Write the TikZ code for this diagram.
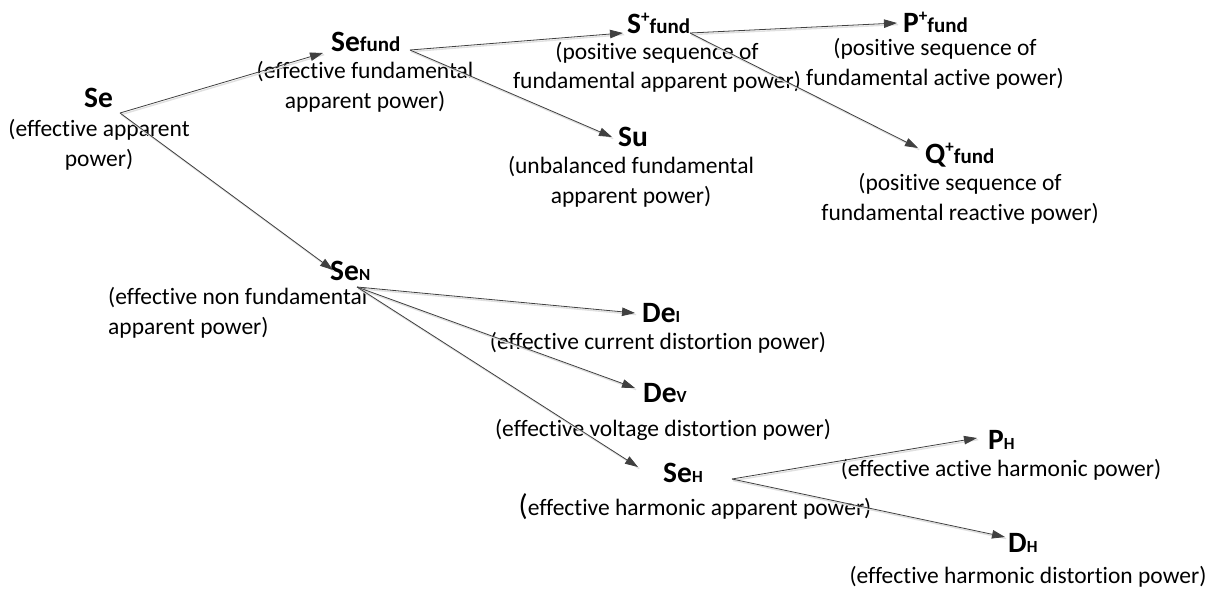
\documentclass[tikz,border=0pt]{standalone}
\usepackage{fontspec}
\setmainfont[Ligatures=CommonOff]{Carlito}
\usetikzlibrary{arrows.meta}
\newcommand\fundsub{{\fontsize{21}{21}\selectfont fund}}
\newcommand\smallsub[1]{{\fontsize{17}{17}\selectfont #1}}
\newcommand\plussup{\raisebox{11pt}{\fontsize{17}{17}\selectfont +}}
\begin{document}
\begin{tikzpicture}[x=1pt,y=-1pt,
  ttl/.style={anchor=west,inner sep=0pt,font=\fontsize{29.5}{29.5}\selectfont\bfseries},
  dsc/.style={align=center,inner sep=0pt,font=\fontsize{23.5}{29.5}\selectfont},
  arr/.style={draw=black!75,line width=0.8pt,-{Triangle[length=13pt,width=8.5pt]},
    preaction={draw=black!12,line width=1.4pt,-,transform canvas={shift={(1.2pt,-1.6pt)}}}}]
\useasboundingbox (0,0) rectangle (1209,590);

% titles
\node[ttl] (se)     at (84,98)   {Se};
\node[ttl] (sefund) at (331,42)  {Se\fundsub};
\node[ttl] (splus)  at (627,23)  {S\plussup\fundsub};
\node[ttl] (su)     at (618,137) {Su};
\node[ttl] (pplus)  at (903,22)  {P\plussup\fundsub};
\node[ttl] (qplus)  at (925,155) {Q\plussup\fundsub};
\node[ttl] (sen)    at (330,271) {Se\smallsub{N}};
\node[ttl] (dei)    at (642,313) {De\smallsub{I}};
\node[ttl] (dev)    at (643,393) {De\smallsub{V}};
\node[ttl] (seh)    at (663,473) {Se\smallsub{H}};
\node[ttl] (ph)     at (988,440) {P\smallsub{H}};
\node[ttl] (dh)     at (1008,543){D\smallsub{H}};

% descriptions
\node[dsc] (se-d)     at (99,145)  {(effective apparent\\power)};
\node[dsc] (sefund-d) at (365,87)  {(effective fundamental\\apparent power)};
\node[dsc] (splus-d)  at (657,67.5){(positive sequence of\\fundamental apparent power)};
\node[dsc] (su-d)     at (631,182) {(unbalanced fundamental\\apparent power)};
\node[dsc] (pplus-d)  at (935,64)  {(positive sequence of\\fundamental active power)};
\node[dsc] (qplus-d)  at (960,199) {(positive sequence of\\fundamental reactive power)};
\node[dsc,align=left,anchor=west] (sen-d) at (108,313) {(effective non fundamental\\apparent power)};
\node[dsc] (dei-d) at (658,343) {(effective current distortion power)};
\node[dsc] (dev-d) at (663,430) {(effective voltage distortion power)};
\node[dsc] (seh-d) at (695,507) {{\fontsize{30}{30}\selectfont(}effective harmonic apparent power)};
\node[dsc] (ph-d)  at (1001,470) {(effective active harmonic power)};
\node[dsc] (dh-d)  at (1028,577) {(effective harmonic distortion power)};

% connectors
\draw[arr] ([shift={(36,15)}]se.west) -- ([shift={(-8,11)}]sefund.west);
\draw[arr] ([shift={(36,15)}]se.west) -- ([shift={(3,-1)}]sen.west);
\draw[arr] ([shift={(79,8)}]sefund.west) -- ([shift={(-4,10)}]splus.west);
\draw[arr] ([shift={(79,8)}]sefund.west) -- ([shift={(-6,0)}]su.west);
\draw[arr] ([shift={(63,10)}]splus.west) -- ([shift={(-6,1)}]pplus.west);
\draw[arr] ([shift={(63,10)}]splus.west) -- ([shift={(-7,-7)}]qplus.west);
\draw[arr] ([shift={(27,16)}]sen.west) -- ([shift={(-7,0)}]dei.west);
\draw[arr] ([shift={(27,16)}]sen.west) -- ([shift={(-8,-5)}]dev.west);
\draw[arr] ([shift={(27,16)}]sen.west) -- ([shift={(-25,-6)}]seh.west);
\draw[arr] ([shift={(69,6)}]seh.west) -- ([shift={(-11,-2)}]ph.west);
\draw[arr] ([shift={(69,6)}]seh.west) -- ([shift={(-3,-6)}]dh.west);
\end{tikzpicture}
\end{document}
